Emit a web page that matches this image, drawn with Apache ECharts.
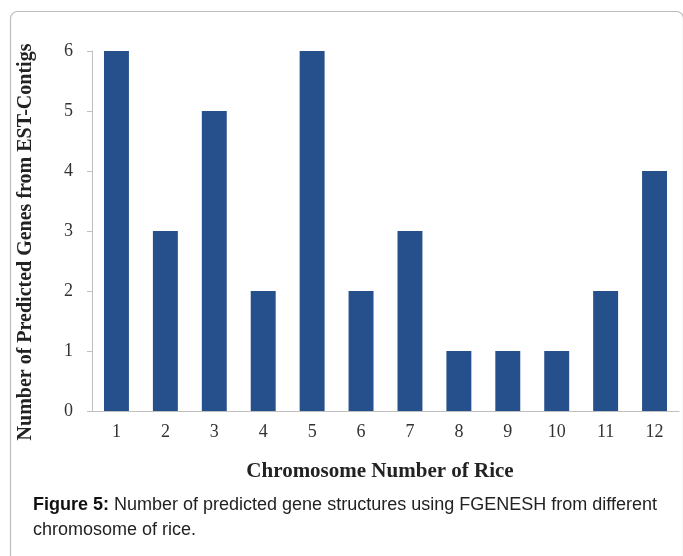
<!DOCTYPE html>
<html>
<head>
<meta charset="utf-8">
<script src="https://cdn.jsdelivr.net/npm/echarts@6/dist/echarts.min.js"></script>
<style>
html,body{margin:0;padding:0;background:#fff;}
#c{width:683px;height:556px;}
</style>
</head>
<body>
<div id="c"></div>
<script>
const categories = ['1','2','3','4','5','6','7','8','9','10','11','12'];
const genes = [6, 3, 5, 2, 6, 2, 3, 1, 1, 1, 2, 4];
const yTicks = [0, 1, 2, 3, 4, 5, 6];
const xTitle = 'Chromosome Number of Rice';
const yTitle = 'Number of Predicted Genes from EST-Contigs';
const captionBold = 'Figure 5:';
const captionLine1 = ' Number of predicted gene structures using FGENESH from different';
const captionLine2 = 'chromosome of rice.';

const chart = echarts.init(document.getElementById('c'), null, {renderer: 'canvas'});
const serif = '"Liberation Serif","Times New Roman",serif';
const sans = '"Liberation Sans",Arial,sans-serif';
chart.setOption({
  animation: false,
  backgroundColor: '#fff',
  grid: {left: 92, right: 4, top: 51, bottom: 145, containLabel: false},
  xAxis: {
    type: 'category',
    data: categories,
    axisLine: {show: true, lineStyle: {color: '#bfbfbf', width: 1}},
    axisTick: {show: false},
    axisLabel: {color: '#333', fontFamily: serif, fontSize: 18, margin: 12}
  },
  yAxis: {
    type: 'value',
    min: yTicks[0],
    max: yTicks[yTicks.length - 1],
    interval: 1,
    splitLine: {show: false},
    axisLine: {show: true, lineStyle: {color: '#bfbfbf', width: 1}},
    axisTick: {show: true, length: 5, lineStyle: {color: '#bfbfbf'}},
    axisLabel: {color: '#333', fontFamily: serif, fontSize: 18, margin: 19}
  },
  series: [{
    type: 'bar',
    data: genes,
    barWidth: '51%',
    itemStyle: {color: '#25508c'}
  }],
  graphic: [
    {type: 'rect', left: 8, top: 9, shape: {width: 673, height: 560, r: 7}, style: {fill: 'none', stroke: '#bdbdbd', lineWidth: 1.2}, z: -1},
    {type: 'text', x: 26, y: 242, rotation: Math.PI / 2, style: {
      text: yTitle, fontFamily: serif, fontSize: 20, fontWeight: 'bold', fill: '#222', align: 'center', verticalAlign: 'middle'}},
    {type: 'text', x: 380, y: 472, style: {
      text: xTitle, fontFamily: serif, fontSize: 21, fontWeight: 'bold', fill: '#222', align: 'center', verticalAlign: 'middle'}},
    {type: 'text', x: 33, y: 505, style: {
      rich: {b: {fontFamily: sans, fontSize: 18, fontWeight: 'bold', fill: '#111'}, n: {fontFamily: sans, fontSize: 18, fill: '#222'}},
      text: '{b|' + captionBold + '}{n|' + captionLine1 + '}', verticalAlign: 'middle'
    }},
    {type: 'text', x: 33, y: 530, style: {text: captionLine2, fontFamily: sans, fontSize: 18, fill: '#222', verticalAlign: 'middle'}}
  ]
});
</script>
</body>
</html>
